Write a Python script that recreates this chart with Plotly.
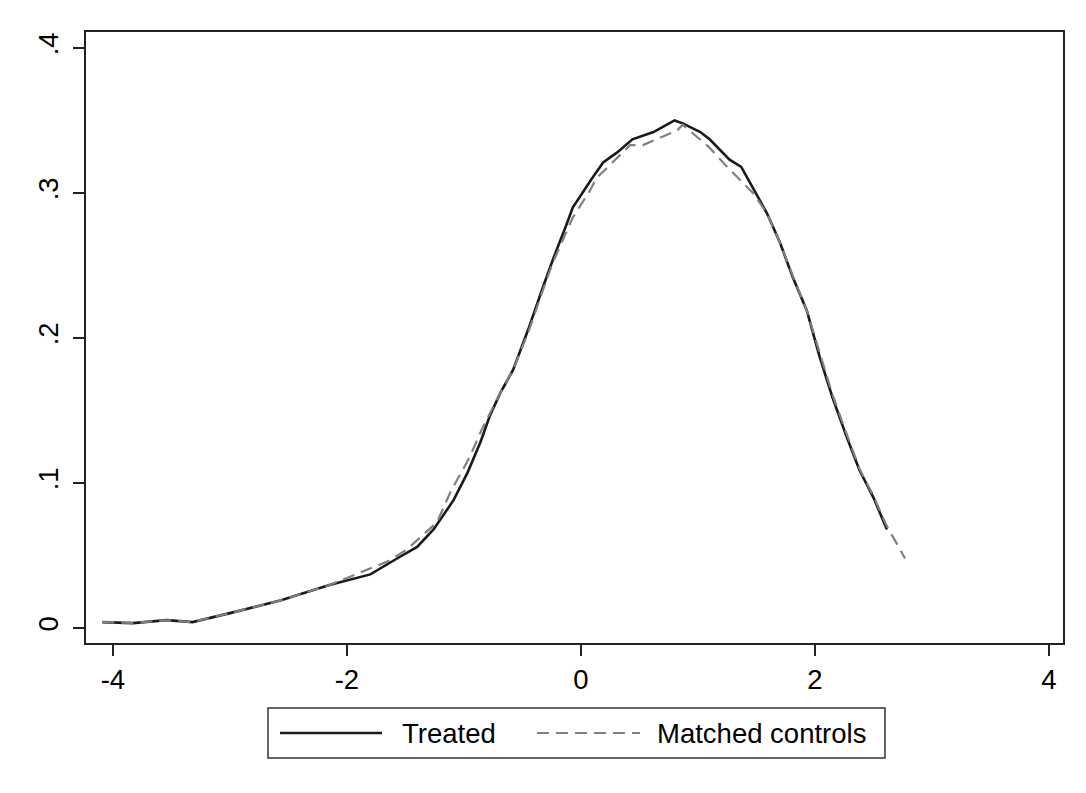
import plotly.graph_objects as go

# Treated kernel density (solid)
treated_x = [-4.09, -3.83, -3.54, -3.32, -3.0, -2.57, -2.15, -1.91, -1.80, -1.55, -1.40, -1.26,
             -1.09, -0.97, -0.86, -0.78, -0.69, -0.58, -0.45, -0.325, -0.24, -0.12, -0.07, 0.094,
             0.19, 0.31, 0.44, 0.62, 0.80, 0.87, 1.02, 1.10, 1.27, 1.37, 1.47, 1.59, 1.70, 1.81,
             1.93, 2.04, 2.15, 2.27, 2.38, 2.50, 2.615]
treated_y = [0.0041, 0.0034, 0.0055, 0.0041, 0.0103, 0.019, 0.0297, 0.0345, 0.037, 0.049, 0.056, 0.068,
             0.088, 0.107, 0.128, 0.146, 0.162, 0.178, 0.206, 0.235, 0.254, 0.279, 0.290, 0.310,
             0.321, 0.328, 0.337, 0.342, 0.350, 0.348, 0.342, 0.337, 0.323, 0.318, 0.303, 0.286, 0.266, 0.242,
             0.219, 0.187, 0.159, 0.132, 0.109, 0.090, 0.068]

# Matched controls kernel density (dashed)
control_x = [-4.09, -3.83, -3.54, -3.32, -3.0, -2.57, -2.15, -1.89, -1.83, -1.65, -1.49, -1.35, -1.23,
             -1.12, -0.95, -0.85, -0.69, -0.58, -0.45, -0.325, -0.24, -0.07, 0.08, 0.13, 0.29, 0.42,
             0.53, 0.65, 0.82, 0.87, 1.09, 1.25, 1.39, 1.47, 1.59, 1.70, 1.81, 1.93, 2.04, 2.15, 2.27,
             2.38, 2.50, 2.61, 2.68, 2.77]
control_y = [0.0041, 0.0036, 0.0053, 0.0042, 0.0103, 0.019, 0.0297, 0.038, 0.040, 0.046, 0.054, 0.064, 0.073,
             0.093, 0.118, 0.1365, 0.162, 0.178, 0.204, 0.233, 0.252, 0.283, 0.302, 0.310, 0.323, 0.333,
             0.333, 0.337, 0.343, 0.347, 0.332, 0.318, 0.307, 0.300, 0.286, 0.266, 0.243, 0.219, 0.19, 0.161, 0.134,
             0.110, 0.091, 0.071, 0.061, 0.048]

x_ticks = [-4, -2, 0, 2, 4]
x_ticktext = ["-4", "-2", "0", "2", "4"]
y_ticks = [0, 0.1, 0.2, 0.3, 0.4]
y_ticktext = ["0", ".1", ".2", ".3", ".4"]
legend_labels = ["Treated", "Matched controls"]

FONT = "Liberation Sans, Arial, sans-serif"
FS = 27.5
solid_color = "#1a1a1a"
dash_color = "#808080"

fig = go.Figure()
fig.add_trace(go.Scatter(x=treated_x, y=treated_y, mode="lines", name=legend_labels[0],
                         line=dict(color=solid_color, width=2.6), showlegend=False))
fig.add_trace(go.Scatter(x=control_x, y=control_y, mode="lines", name=legend_labels[1],
                         line=dict(color=dash_color, width=2.2, dash="12px,7px"), showlegend=False))

# manual legend (Stata style, long line samples)
ly = -0.1473
fig.add_shape(type="rect", xref="paper", yref="paper", x0=0.1863, x1=0.8178, y0=-0.1882, y1=-0.1064,
              line=dict(color="#333333", width=1.5), fillcolor="white")
fig.add_shape(type="line", xref="paper", yref="paper", x0=0.1986, x1=0.3030, y0=ly, y1=ly,
              line=dict(color=solid_color, width=2.6))
fig.add_shape(type="line", xref="paper", yref="paper", x0=0.4616, x1=0.5670, y0=ly, y1=ly,
              line=dict(color=dash_color, width=2.2, dash="12px,7px"))
fig.add_annotation(xref="paper", yref="paper", x=0.3214, y=ly, text=legend_labels[0], showarrow=False,
                   xanchor="left", yanchor="middle", font=dict(family=FONT, size=FS, color="black"))
fig.add_annotation(xref="paper", yref="paper", x=0.5824, y=ly, text=legend_labels[1], showarrow=False,
                   xanchor="left", yanchor="middle", font=dict(family=FONT, size=FS, color="black"))

axis_common = dict(showline=True, linecolor="#222222", linewidth=2, mirror=True, showgrid=False,
                   zeroline=False, ticks="outside", ticklen=11, tickwidth=1.5, tickcolor="#222222",
                   tickfont=dict(family=FONT, size=FS, color="black"))

fig.update_layout(
    width=1086, height=793,
    margin=dict(l=78, r=31, t=24, b=158),
    paper_bgcolor="white", plot_bgcolor="white",
    xaxis=dict(range=[-4.23, 4.12], tickvals=x_ticks, ticktext=x_ticktext, **axis_common),
    yaxis=dict(range=[-0.0103, 0.411], tickvals=y_ticks, ticktext=y_ticktext, tickangle=-90,
               ticklabelstandoff=4, **axis_common),
)

fig.write_html("out.html")
